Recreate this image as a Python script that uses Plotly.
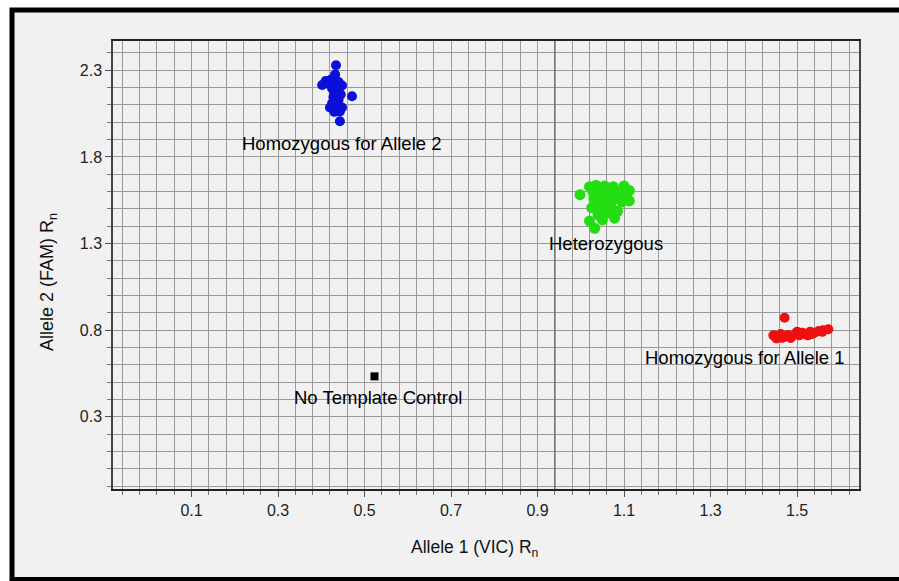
import plotly.graph_objects as go

# ---- data ----
hom2_x = [0.434, 0.432, 0.410, 0.422, 0.440, 0.402, 0.418, 0.448, 0.425, 0.440, 0.430, 0.445,
          0.428, 0.440, 0.471, 0.425, 0.438, 0.420, 0.435, 0.448, 0.430, 0.443, 0.443]
hom2_y = [2.329, 2.275, 2.238, 2.245, 2.232, 2.215, 2.220, 2.212, 2.195, 2.190, 2.170, 2.160,
          2.145, 2.130, 2.150, 2.110, 2.100, 2.085, 2.078, 2.085, 2.060, 2.062, 2.006]

het_x = [0.998, 1.020, 1.035, 1.055, 1.075, 1.100, 1.112, 1.028, 1.048, 1.068, 1.090, 1.030,
         1.050, 1.080, 1.105, 1.040, 1.060, 1.095, 1.112, 1.025, 1.045, 1.070, 1.085, 1.040,
         1.060, 1.078, 1.032, 1.050, 1.020]
het_y = [1.582, 1.628, 1.636, 1.632, 1.628, 1.632, 1.606, 1.596, 1.600, 1.590, 1.596, 1.560,
         1.566, 1.560, 1.570, 1.530, 1.536, 1.540, 1.546, 1.506, 1.500, 1.510, 1.486, 1.466,
         1.476, 1.446, 1.388, 1.436, 1.430]

hom1_x = [1.471, 1.445, 1.455, 1.462, 1.470, 1.478, 1.488, 1.495, 1.505, 1.512, 1.520, 1.530,
          1.540, 1.550, 1.560, 1.572, 1.500, 1.525, 1.465, 1.485, 1.452, 1.535, 1.558]
hom1_y = [0.872, 0.770, 0.765, 0.778, 0.760, 0.772, 0.765, 0.778, 0.770, 0.785, 0.775, 0.790,
          0.785, 0.795, 0.800, 0.805, 0.790, 0.770, 0.755, 0.755, 0.752, 0.778, 0.790]

ntc_x = [0.523]
ntc_y = [0.533]

cluster_labels = ["Homozygous for Allele 2", "Heterozygous", "Homozygous for Allele 1", "No Template Control"]
label_x = [0.448, 1.057, 1.379, 0.532]
label_y = [1.879, 1.302, 0.644, 0.413]

x_title = "Allele 1 (VIC) R<sub>n</sub>"
y_title = "Allele 2 (FAM) R<sub>n</sub>"

FONT = "Liberation Sans, Arial, sans-serif"
GRID = "#9a9a9a"

fig = go.Figure()
fig.add_trace(go.Scatter(x=hom2_x, y=hom2_y, mode="markers",
                         marker=dict(color="#0a10d8", size=10, line=dict(width=0))))
fig.add_trace(go.Scatter(x=het_x, y=het_y, mode="markers",
                         marker=dict(color="#22dd10", size=11, line=dict(width=0))))
fig.add_trace(go.Scatter(x=hom1_x, y=hom1_y, mode="markers",
                         marker=dict(color="#ee1010", size=10, line=dict(width=0))))
fig.add_trace(go.Scatter(x=ntc_x, y=ntc_y, mode="markers",
                         marker=dict(color="black", size=8, symbol="square", line=dict(width=0))))

for t, x, y in zip(cluster_labels, label_x, label_y):
    fig.add_annotation(x=x, y=y, text=t, showarrow=False,
                       font=dict(family=FONT, size=18.5, color="black"))

# axis titles
fig.add_annotation(x=0.485, y=-0.1317, xref="paper", yref="paper", text=x_title,
                   xanchor="center", yanchor="middle",
                   showarrow=False, font=dict(family=FONT, size=17.5, color="#111"))
fig.add_annotation(x=-0.0871, y=0.462, xref="paper", yref="paper", text=y_title,
                   xanchor="center", yanchor="middle",
                   showarrow=False, textangle=-90, font=dict(family=FONT, size=18, color="#111"))

# outer frame (left/top/bottom black border)
fig.add_shape(type="rect", xref="paper", yref="paper",
              x0=-0.1354, x1=1.0617, y0=-0.2020, y1=1.0692,
              line=dict(color="black", width=5), fillcolor="#f1f1f1", layer="below")

# prominent central vertical line
fig.add_shape(type="line", xref="x", yref="paper", x0=0.94, x1=0.94, y0=0, y1=1,
              line=dict(color="#707070", width=1.5))

fig.update_xaxes(range=[-0.0815, 1.643], tick0=0.1, dtick=0.2, tickformat=".1f",
                 showgrid=True, gridcolor=GRID, gridwidth=1, zeroline=False,
                 ticks="outside", ticklen=6, tickcolor="#555",
                 showline=True, linecolor="#222", linewidth=2, mirror=True,
                 tickfont=dict(family=FONT, size=16, color="#222"),
                 minor=dict(tick0=0.1, dtick=0.04, showgrid=True, gridcolor=GRID, gridwidth=1,
                            ticks="outside", ticklen=4, tickcolor="#777"))
fig.update_yaxes(range=[-0.117, 2.469], tick0=0.3, dtick=0.5, tickformat=".1f",
                 showgrid=True, gridcolor=GRID, gridwidth=1, zeroline=False,
                 ticks="outside", ticklen=6, tickcolor="#555",
                 showline=True, linecolor="#444", linewidth=1.5, mirror=True,
                 tickfont=dict(family=FONT, size=16, color="#222"),
                 minor=dict(tick0=0.3, dtick=0.1, showgrid=True, gridcolor=GRID, gridwidth=1,
                            ticks="outside", ticklen=4, tickcolor="#777"))

fig.update_layout(width=899, height=581, showlegend=False,
                  margin=dict(l=113, r=40, t=41, b=92),
                  paper_bgcolor="white", plot_bgcolor="#f5f5f5",
                  font=dict(family=FONT))

fig.write_html("out.html", config={"displayModeBar": False},
               post_script="document.body.style.margin='0px';document.body.style.padding='0px';")
